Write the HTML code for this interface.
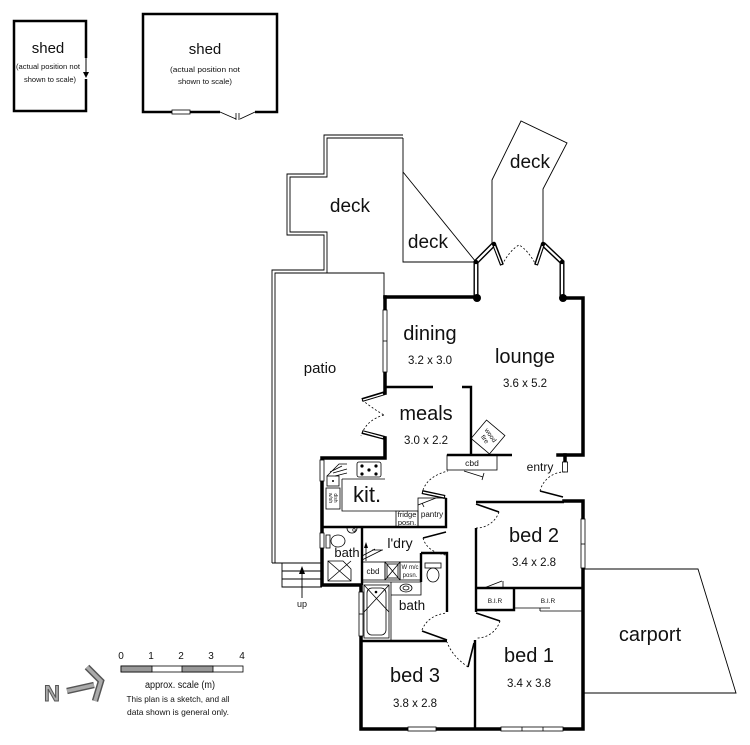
<!DOCTYPE html>
<html><head><meta charset="utf-8"><style>html,body{margin:0;padding:0;background:#fff}svg{display:block}</style></head>
<body>
<svg xmlns="http://www.w3.org/2000/svg" width="750" height="745" viewBox="0 0 750 745" font-family="'Liberation Sans', sans-serif">
<rect width="750" height="745" fill="#fff"/>

<!-- SHEDS -->
<g fill="none" stroke="#000" stroke-width="2.5">
  <rect x="14" y="21" width="72" height="90"/>
  <rect x="143" y="14" width="134" height="98"/>
</g>
<rect x="84" y="58" width="4" height="21" fill="#fff"/>
<line x1="86" y1="58" x2="86" y2="73" stroke="#000" stroke-width="1"/>
<path d="M83,72 L89,72 L86,78 Z" fill="#000"/>
<rect x="172" y="110" width="18" height="4" fill="#fff" stroke="#000" stroke-width="0.8"/>
<rect x="220" y="109" width="35" height="6" fill="#fff"/>
<path d="M220,112 L236,119 M255,112 L240,119 M236,113 V120 M239,113 V120" stroke="#000" stroke-width="0.8" fill="none"/>
<g fill="#111" text-anchor="middle">
  <text x="48" y="53" font-size="15">shed</text>
  <text x="48" y="69" font-size="7.5" textLength="64" lengthAdjust="spacingAndGlyphs">(actual position not</text>
  <text x="50" y="82" font-size="7.5" textLength="52" lengthAdjust="spacingAndGlyphs">shown to scale)</text>
  <text x="205" y="54" font-size="15">shed</text>
  <text x="205" y="72" font-size="7.5" textLength="70" lengthAdjust="spacingAndGlyphs">(actual position not</text>
  <text x="205" y="84" font-size="7.5" textLength="54" lengthAdjust="spacingAndGlyphs">shown to scale)</text>
</g>

<!-- DECK / PATIO outlines -->
<g fill="none" stroke="#000" stroke-width="0.9">
  <path d="M403,135 H324 V174 H287 V235 H324 V270 H272 V563"/>
  <path d="M403,138 H327 V177 H290 V232 H327 V273"/>
  <path d="M275,563 V273 H384 V297"/>
  <path d="M403,138 V262 H476"/>
  <path d="M403,172 L476,262"/>
  <path d="M492,243 V180 L521,121 L567,143 L543,189 V244"/>
  <!-- steps -->
  <path d="M272,563 H322 M282,563 V587 H322 M282,571 H322 M282,579 H322"/>
  <path d="M302,598 V572"/>
  <!-- carport -->
  <path d="M583,569 H698 L736,693 H583"/>
</g>
<path d="M299,574 L302,566 L305,574 Z" fill="#000"/>

<!-- BAY windows (double lines) -->
<g fill="none" stroke-linecap="butt">
  <path d="M476,297 V262 L494,244" stroke="#000" stroke-width="5"/>
  <path d="M476,295 V262 L494,244" stroke="#fff" stroke-width="2.2"/>
  <path d="M562,297 V262 L543,244" stroke="#000" stroke-width="5"/>
  <path d="M562,295 V262 L543,244" stroke="#fff" stroke-width="2.2"/>
  <path d="M494,244 L502,265" stroke="#000" stroke-width="4"/>
  <path d="M494.5,246 L501.5,264" stroke="#fff" stroke-width="1.4"/>
  <path d="M543,244 L536,265" stroke="#000" stroke-width="4"/>
  <path d="M542.5,246 L536.5,264" stroke="#fff" stroke-width="1.4"/>
</g>
<path d="M502,265 Q510,250 519,245 Q528,250 536,265" fill="none" stroke="#000" stroke-width="0.8" stroke-dasharray="2,2"/>
<g fill="#000">
  <circle cx="477" cy="298" r="4"/>
  <circle cx="563" cy="298" r="4"/>
  <circle cx="476" cy="262" r="2.2"/>
  <circle cx="494" cy="244" r="2.2"/>
  <circle cx="543" cy="244" r="2.2"/>
  <circle cx="562" cy="262" r="2.2"/>
</g>

<!-- THICK outer walls -->
<g fill="none" stroke="#000" stroke-width="3.5" stroke-linecap="square">
  <path d="M385,297 H477"/>
  <path d="M563,298 H583 V455 H558"/>
  <path d="M565,455 V462"/>
  <path d="M385,438 V458 H322 V585 H361 V729 H583 V501 H564"/>
  <path d="M385,393 V297"/>
</g>

<!-- MEDIUM interior walls -->
<g fill="none" stroke="#000" stroke-width="2.4">
  <path d="M385,387 H433"/>
  <path d="M462,387 H471 V455"/>
  <path d="M447,455 H512"/>
  <path d="M322,527 H446 V498"/>
  <path d="M362,527 V585"/>
  <path d="M421,553 H447 V612"/>
  <path d="M421,553 V582"/>
  <path d="M361,641 H447"/>
  <path d="M476,502 H564"/>
  <path d="M476,528 V612"/>
  <path d="M476,588 H583"/>
  <path d="M514,588 V610 H476"/>
  <path d="M475,640 V729"/>
</g>

<!-- windows -->
<g fill="#fff" stroke="#000" stroke-width="0.8">
  <rect x="383" y="310" width="4" height="62"/>
  <line x1="383" y1="341" x2="387" y2="341"/>
  <rect x="320" y="460" width="4" height="21"/>
  <rect x="320" y="533" width="4" height="15"/>
  <rect x="359" y="592" width="4" height="44"/>
  <line x1="359" y1="614" x2="363" y2="614"/>
  <rect x="408" y="727" width="28" height="4"/>
  <rect x="501" y="727" width="62" height="4"/>
  <line x1="522" y1="727" x2="522" y2="731"/>
  <line x1="543" y1="727" x2="543" y2="731"/>
  <rect x="581" y="519" width="4" height="49"/>
  <line x1="581" y1="544" x2="585" y2="544"/>
  <rect x="562.5" y="462" width="5" height="10"/>
</g>

<!-- doors: meals double doors -->
<g fill="none">
  <path d="M385,393 L362,400" stroke="#000" stroke-width="4"/>
  <path d="M383,394 L363,400" stroke="#fff" stroke-width="1.4"/>
  <path d="M385,438 L362,432" stroke="#000" stroke-width="4"/>
  <path d="M383,437.5 L363,432" stroke="#fff" stroke-width="1.4"/>
  <path d="M422,492 L445,497" stroke="#000" stroke-width="4"/>
  <path d="M423,492.3 L444,496.7" stroke="#fff" stroke-width="1.4"/>
</g>
<g fill="none" stroke="#000" stroke-width="0.8" stroke-dasharray="2,2">
  <path d="M362,400 Q375,410 384,415"/>
  <path d="M384,415 Q366,420 361,436"/>
  <path d="M423,490 Q428,476 448,471"/>
  <path d="M540,491 A25,25 0 0 1 565,472"/>
  <path d="M499,512 A24,24 0 0 1 476,528"/>
  <path d="M500,621 A24,24 0 0 1 476,638"/>
  <path d="M423,538 Q427,552 446,555"/>
  <path d="M422,630 Q428,615 447,613"/>
  <path d="M468,667 Q452,656 447,642"/>
</g>
<g fill="none" stroke="#000" stroke-width="1.6">
  <path d="M540,491 L563,497"/>
  <path d="M476,504 L499,512"/>
  <path d="M476,613 L500,621"/>
  <path d="M446,532 L423,538"/>
  <path d="M447,640 L422,631"/>
  <path d="M474,643 L468,667"/>
</g>

<!-- cbd under lounge -->
<g fill="none" stroke="#000" stroke-width="0.8">
  <rect x="447" y="455" width="50" height="15"/>
  <path d="M464,471 L483,477 M484,473 L482,480"/>
  <!-- wood fire -->
  <rect x="-12" y="-12" width="24" height="24" transform="translate(488,437) rotate(40)"/>
</g>
<g fill="#111" font-size="6.5" text-anchor="middle">
  <g transform="translate(488,437) rotate(55)">
    <text x="0" y="-1">wood</text>
    <text x="0" y="6">fire</text>
  </g>
</g>

<!-- KITCHEN fittings -->
<g fill="none" stroke="#000" stroke-width="0.8">
  <path d="M342,479 V511 H396"/>
  <path d="M342,479 H385"/>
  <rect x="357" y="462" width="24" height="15" rx="2"/>
  <rect x="396" y="511" width="22" height="16"/>
  <rect x="418" y="498" width="28" height="29"/>
  <path d="M418,505 L436,498 M422,503 L424,507"/>
  <rect x="326" y="488" width="14" height="21"/>
  <path d="M327,476 L339,464 L347,464 M330,472 L342,466 M333,473 L347,469 M335,476 L347,473"/>
  <rect x="327" y="476" width="12" height="10"/>
</g>
<g fill="#000">
  <circle cx="362" cy="466" r="1.6"/><circle cx="376" cy="466" r="1.6"/>
  <circle cx="369" cy="470" r="1.6"/><circle cx="362" cy="474" r="1.6"/><circle cx="376" cy="474" r="1.6"/>
  <circle cx="333" cy="481" r="1"/>
</g>
<g fill="#111" font-size="5" text-anchor="middle">
  <g transform="translate(333,498) rotate(90)"><text x="0" y="-1">dish</text><text x="0" y="4">w/sh</text></g>
</g>

<!-- BATH 1 / LAUNDRY / BATH 2 fittings -->
<g fill="none" stroke="#000" stroke-width="0.8">
  <ellipse cx="338" cy="541" rx="7" ry="6"/>
  <rect x="326" y="535" width="4" height="13"/>
  <path d="M347,528 A5,5 0 0 0 357,528"/>
  <path d="M328,561 H343 L351,569 V581 H328 Z M328,561 L351,581 M351,561 L328,581 M343,561 L351,569"/>
  <rect x="362" y="562" width="23" height="18"/>
  <rect x="385" y="562" width="15" height="18"/>
  <path d="M385,562 L400,580 M400,562 L385,580"/>
  <rect x="387" y="564" width="11" height="14"/>
  <rect x="400" y="562" width="21" height="18"/>
  <path d="M362,582 H421"/>
  <path d="M366,561 V546 M362,556 L375,549 M362,560 L382,550 M372,550 H383"/>
  <rect x="425" y="563" width="16" height="5"/>
  <ellipse cx="433" cy="575" rx="6" ry="7"/>
  <path d="M391,582 V640 M391,595 H421 V582"/>
  <ellipse cx="406" cy="588" rx="6" ry="4"/>
  <ellipse cx="406" cy="588" rx="3" ry="2"/>
  <rect x="364" y="585" width="25" height="53"/>
  <rect x="367" y="588" width="19" height="47" rx="5"/>
  <path d="M364,585 L389,612 M389,585 L364,612"/>
  <!-- BIR -->
  <path d="M484,588 L502,581 M503,581 V587"/>
  <path d="M514,608 H550 M540,611 H583 M540,608 V611"/>
</g>
<path d="M364,548 L366,542 L368,548 Z" fill="#000"/>
<circle cx="376" cy="592" r="1.3" fill="#000"/>
<circle cx="354" cy="530" r="1.3" fill="none" stroke="#000" stroke-width="0.6"/>

<!-- ROOM LABELS -->
<g fill="#111" text-anchor="middle">
  <text x="350" y="212" font-size="19">deck</text>
  <text x="428" y="248" font-size="19">deck</text>
  <text x="530" y="168" font-size="19">deck</text>
  <text x="320" y="373" font-size="15">patio</text>
  <text x="430" y="340" font-size="20">dining</text>
  <text x="430" y="364" font-size="11.5">3.2 x 3.0</text>
  <text x="525" y="363" font-size="20">lounge</text>
  <text x="525" y="387" font-size="11.5">3.6 x 5.2</text>
  <text x="426" y="420" font-size="20">meals</text>
  <text x="426" y="444" font-size="11.5">3.0 x 2.2</text>
  <text x="367" y="502" font-size="22">kit.</text>
  <text x="347" y="557" font-size="13">bath</text>
  <text x="400" y="548" font-size="14">l'dry</text>
  <text x="412" y="610" font-size="13.5">bath</text>
  <text x="534" y="542" font-size="20">bed 2</text>
  <text x="534" y="566" font-size="11.5">3.4 x 2.8</text>
  <text x="529" y="662" font-size="20">bed 1</text>
  <text x="529" y="687" font-size="11.5">3.4 x 3.8</text>
  <text x="415" y="682" font-size="20">bed 3</text>
  <text x="415" y="707" font-size="11.5">3.8 x 2.8</text>
  <text x="650" y="641" font-size="20">carport</text>
  <text x="540" y="471" font-size="12">entry</text>
  <text x="472" y="466" font-size="8.5">cbd</text>
  <text x="373" y="574" font-size="8">cbd</text>
  <text x="410" y="569" font-size="6">W m/c</text>
  <text x="410" y="577" font-size="6">posn.</text>
  <text x="407" y="517" font-size="7.5">fridge</text>
  <text x="407" y="525" font-size="7.5">posn.</text>
  <text x="432" y="517" font-size="8">pantry</text>
  <text x="495" y="603" font-size="6.5">B.I.R</text>
  <text x="548" y="603" font-size="6.5">B.I.R</text>
  <text x="302" y="607" font-size="9">up</text>
</g>

<!-- SCALE BAR -->
<rect x="121" y="666" width="122" height="6" fill="#fff" stroke="#000" stroke-width="0.8"/>
<rect x="121" y="666" width="31" height="6" fill="#999" stroke="#000" stroke-width="0.8"/>
<rect x="182" y="666" width="31" height="6" fill="#999" stroke="#000" stroke-width="0.8"/>
<g fill="#111" text-anchor="middle" font-size="10">
  <text x="121" y="659">0</text>
  <text x="151" y="659">1</text>
  <text x="181" y="659">2</text>
  <text x="211" y="659">3</text>
  <text x="242" y="659">4</text>
  <text x="180" y="688" textLength="70" lengthAdjust="spacingAndGlyphs">approx. scale (m)</text>
  <text x="178" y="702" font-size="8.5" textLength="103" lengthAdjust="spacingAndGlyphs">This plan is a sketch, and all</text>
  <text x="178" y="715" font-size="8.5" textLength="102" lengthAdjust="spacingAndGlyphs">data shown is general only.</text>
</g>

<!-- NORTH ARROW -->
<text x="44" y="701" font-size="22" font-weight="bold" fill="#aaa" stroke="#555" stroke-width="1">N</text>
<g fill="none" stroke-linejoin="miter">
  <path d="M67,691 L94,685 M87,667 L101,681 L95,701" stroke="#555" stroke-width="6.5"/>
  <path d="M67,691 L94,685 M87,667 L101,681 L95,701" stroke="#aaa" stroke-width="3.5"/>
</g>
</svg>
</body></html>
